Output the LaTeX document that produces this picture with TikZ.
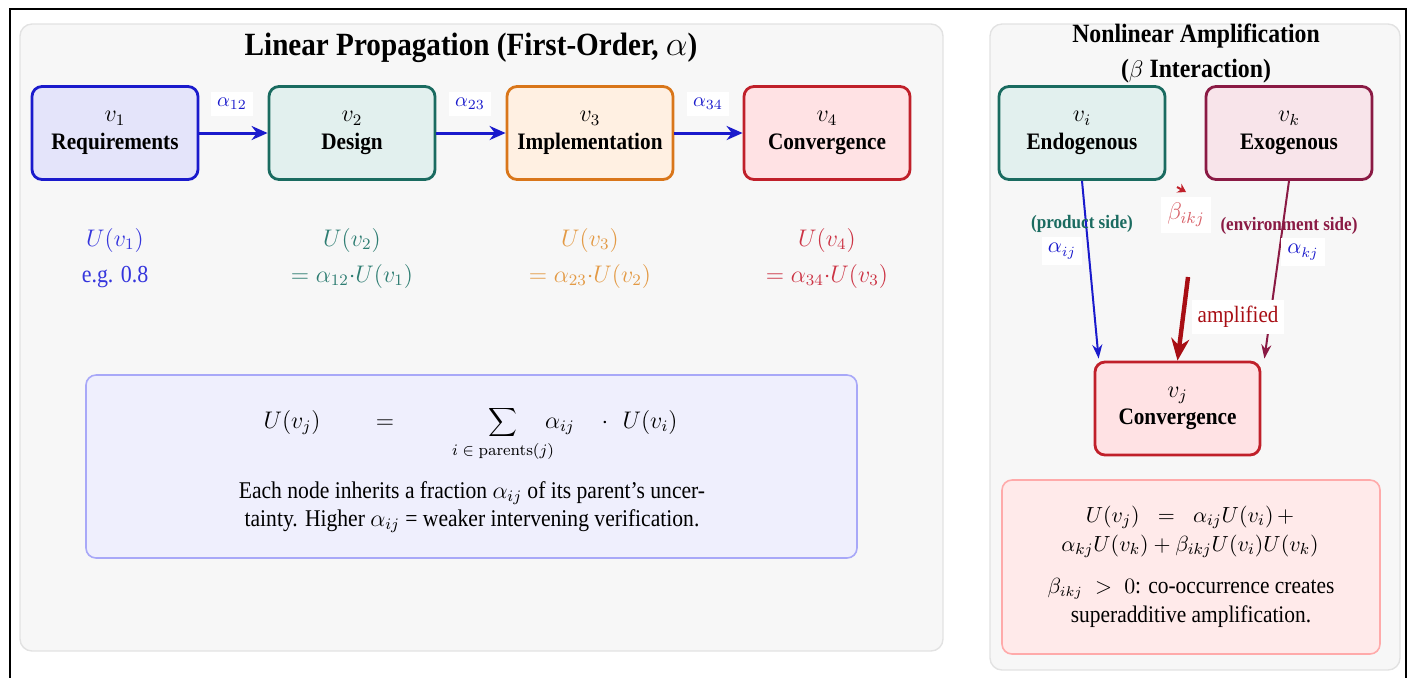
\documentclass[tikz,border=0pt]{standalone}
\usepackage[no-math]{fontspec}
\setmainfont{Liberation Serif}[FakeStretch=0.9]
\usetikzlibrary{arrows.meta,calc}
\definecolor{panelfill}{HTML}{F7F7F7}
\definecolor{panelborder}{HTML}{E2E2E2}
\definecolor{cblue}{HTML}{1A1ACC}
\definecolor{fblue}{HTML}{E4E4FA}
\definecolor{lblue}{HTML}{3535DD}
\definecolor{cteal}{HTML}{1A6B60}
\definecolor{fteal}{HTML}{E2F0EE}
\definecolor{lteal}{HTML}{2E7D72}
\definecolor{corange}{HTML}{D9761A}
\definecolor{forange}{HTML}{FFF0E2}
\definecolor{lorange}{HTML}{E39A45}
\definecolor{cred}{HTML}{C0202A}
\definecolor{fred}{HTML}{FFE2E4}
\definecolor{lred}{HTML}{CC3344}
\definecolor{cmaroon}{HTML}{8A1A44}
\definecolor{fmaroon}{HTML}{F8E4EA}
\definecolor{darkred}{HTML}{A80E14}
\definecolor{lbeta}{HTML}{D86068}
\definecolor{formfill}{HTML}{EFEFFD}
\definecolor{formborder}{HTML}{A8A8F8}
\definecolor{pinkfill}{HTML}{FFEAEA}
\definecolor{pinkborder}{HTML}{FFAAAA}
\begin{document}
\begin{tikzpicture}[x=0.5pt,y=-0.5pt,
  panel/.style={draw=panelborder,fill=panelfill,line width=0.7pt,rounded corners=6pt},
  vbox/.style={rectangle,rounded corners=5pt,line width=1.4pt,minimum width=83pt,minimum height=46.5pt,
    align=center,inner sep=0pt,font=\fontsize{11.8}{13.8}\selectfont},
  flow/.style={-{Stealth[length=8pt,width=7pt]},line width=1.5pt,cblue},
  alab/.style={fill=white,inner sep=3pt,text=cblue,font=\fontsize{10.3}{12}\selectfont},
  ulab/.style={align=center,font=\fontsize{11.5}{18}\selectfont},
  infobox/.style={rectangle,rounded corners=5pt,line width=0.8pt},
  side/.style={font=\bfseries\fontsize{9.5}{11}\selectfont},
  wlab/.style={fill=white,inner sep=3pt},
  thin/.style={-{Stealth[length=7pt,width=5pt]},line width=1pt},
  fpart/.style={anchor=base,inner sep=0pt,font=\fontsize{11.5}{14}\selectfont}
]
\useasboundingbox (0,0) rectangle (1412,677);
% outer frame
\draw[line width=1pt] (9.5,700) -- (9.5,9) -- (1405.5,9) -- (1405.5,700);
% panels
\draw[panel] (20,24) rectangle (943,651);
\draw[panel] (990,24) rectangle (1400,670);

% ---- left panel
\node[font=\bfseries\fontsize{16.2}{19}\selectfont] (ltitle) at (471,48) {Linear Propagation (First-Order, $\alpha$)};

\node[vbox,draw=cblue,fill=fblue] (v1) at (115,133) {$v_1$\\\textbf{Requirements}};
\node[vbox,draw=cteal,fill=fteal] (v2) at (352,133) {$v_2$\\\textbf{Design}};
\node[vbox,draw=corange,fill=forange] (v3) at (590,133) {$v_3$\\\textbf{Implementation}};
\node[vbox,draw=cred,fill=fred] (v4) at (827,133) {$v_4$\\\textbf{Convergence}};

\draw[flow] (v1) -- (v2);
\draw[flow] (v2) -- (v3);
\draw[flow] (v3) -- (v4);
\node[alab] (a12) at (232,104) {$\alpha_{12}$};
\node[alab] (a23) at (470,104) {$\alpha_{23}$};
\node[alab] (a34) at (708,104) {$\alpha_{34}$};

\node[ulab,text=lblue] (u1) at (115,258) {$U(v_1)$\\{\fontsize{12.2}{18}\selectfont e.g. 0.8}};
\node[ulab,text=lteal] (u2) at (352,258) {$U(v_2)$\\$=\alpha_{12}{\cdot}U(v_1)$};
\node[ulab,text=lorange] (u3) at (590,258) {$U(v_3)$\\$=\alpha_{23}{\cdot}U(v_2)$};
\node[ulab,text=lred] (u4) at (827,258) {$U(v_4)$\\$=\alpha_{34}{\cdot}U(v_3)$};

\node[infobox,draw=formborder,fill=formfill,minimum width=385.5pt,minimum height=91.5pt] (fbox) at (471.5,466.5) {};
\node[fpart] (f1) at (292,428) {$U(v_j)$};
\node[fpart] (f2) at (385,428) {$=$};
\node[fpart] (f3) at (503,428) {$\displaystyle\sum$};
\node[fpart,font=\fontsize{8.5}{10}\selectfont] (f3s) at (503,455) {$i\in\mathrm{parents}(j)$};
\node[fpart] (f4) at (560,428) {$\alpha_{ij}$};
\node[fpart] (f5) at (605,428) {$\cdot$};
\node[fpart] (f6) at (650,428) {$U(v_i)$};
\node[align=center,font=\fontsize{12}{14}\selectfont] (ftext) at (472,507)
  {Each node inherits a fraction $\alpha_{ij}$ of its parent's uncer-\\tainty. Higher $\alpha_{ij}$ = weaker intervening verification.};

% ---- right panel
\node[align=center,font=\bfseries\fontsize{13.2}{17.5}\selectfont] (rtitle) at (1196,54) {Nonlinear Amplification\\($\beta$ Interaction)};

\node[vbox,draw=cteal,fill=fteal] (vi) at (1082,133) {$v_i$\\\textbf{Endogenous}};
\node[vbox,draw=cmaroon,fill=fmaroon] (vk) at (1289,133) {$v_k$\\\textbf{Exogenous}};
\node[vbox,draw=cred,fill=fred,minimum width=82.5pt] (vj) at (1177.5,408.5) {$v_j$\\\textbf{Convergence}};

\coordinate (ei) at ($(vj.north west)+(5,-2)$);
\coordinate (ek) at ($(vj.north east)+(3,-2)$);
\coordinate (ampstart) at (1188,277);
\draw[thin,cblue] (vi.south) -- (ei);
\draw[thin,cmaroon] (vk.south) -- (ek);
\draw[-{Stealth[length=11pt,width=9pt]},line width=2.2pt,darkred] (ampstart) -- (vj.north);

\node[side,text=cteal] (ps) at (1082,224) {(product side)};
\node[wlab,text=cblue,font=\fontsize{10.5}{12}\selectfont] (aij) at (1062,251) {$\alpha_{ij}$};
\node[side,text=cmaroon] (es) at (1289,226) {(environment side)};
\node[wlab,text=cblue,font=\fontsize{10.5}{12}\selectfont] (akj) at (1303,252) {$\alpha_{kj}$};
\node[wlab,text=lbeta,font=\fontsize{11.5}{13}\selectfont] (bikj) at (1186,215) {$\beta_{ikj}$};
\coordinate (bt1) at (1177,187);
\coordinate (bt2) at (1186,192);
\draw[-{Stealth[length=4pt,width=5pt]},line width=1pt,cred] (bt1) -- (bt2);
\node[wlab,text=darkred,font=\fontsize{11.7}{13}\selectfont] (amp) at (1238,317) {amplified};

\node[infobox,draw=pinkborder,fill=pinkfill,minimum width=189pt,minimum height=87pt] (pbox) at (1191,567) {};
\node[align=center,font=\fontsize{11}{14.5}\selectfont] (m1) at (1190,532)
  {$U(v_j)\;\;=\;\;\alpha_{ij}U(v_i)\,+$\\$\alpha_{kj}U(v_k)+\beta_{ikj}U(v_i)U(v_k)$};
\node[align=center,font=\fontsize{11.9}{14.5}\selectfont] (m2) at (1191,602.5)
  {{\fontsize{10.7}{14.5}\selectfont$\beta_{ikj}\;>\;0$}: co-occurrence creates\\superadditive amplification.};
\end{tikzpicture}
\end{document}
